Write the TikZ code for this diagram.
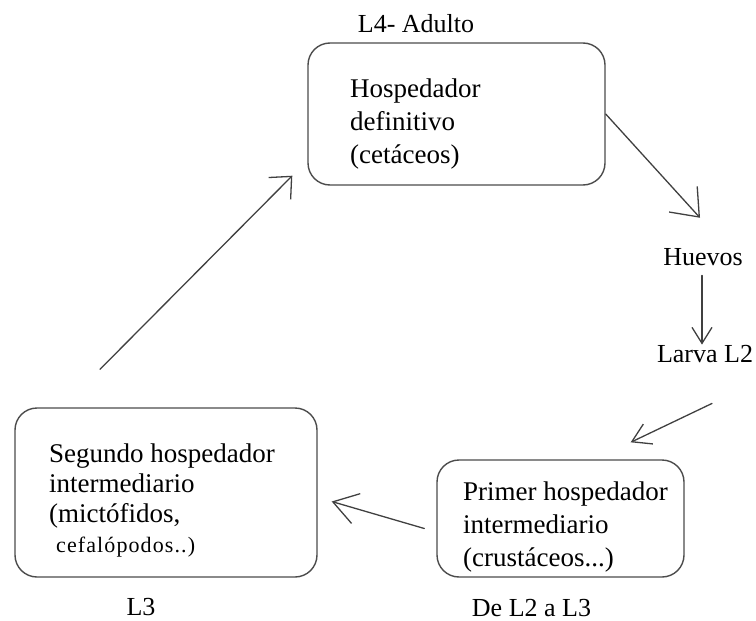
\documentclass[tikz,border=0pt]{standalone}
\usepackage{fontspec}
\setmainfont{Liberation Serif}
\usetikzlibrary{arrows.meta}

\tikzset{
 host/.style={draw=black!70, line width=1.4pt, rounded corners=22pt, inner sep=0pt},
 hosttext/.style={anchor=base west, inner sep=0pt, text width=280pt, align=flush left,
   font=\fontsize{27}{33}\selectfont},
 stage/.style={anchor=base, inner sep=0pt, font=\fontsize{26}{31}\selectfont},
 link/.style={draw=black!75, line width=1.3pt, line cap=round, line join=round},
}

\begin{document}
\begin{tikzpicture}[x=1pt,y=-1pt]
 \useasboundingbox (0,0) rectangle (756,621);
 % hosts
 \node[host, minimum width=297pt, minimum height=142pt] (defin) at (456.5,114) {};
 \node[host, minimum width=247pt, minimum height=117pt] (primer) at (560.5,518.5) {};
 \node[host, minimum width=302pt, minimum height=169pt] (segundo) at (166,492.5) {};
 \node[hosttext] (defin-t) at (350,97) {Hospedador\\definitivo\\(cetáceos)};
 \node[hosttext] (primer-t) at (463,500) {Primer hospedador\\intermediario\\(crustáceos...)};
 \node[hosttext, font=\fontsize{27}{30}\selectfont] (segundo-t) at (49,462)
   {Segundo hospedador\\intermediario\\(mictófidos,\\\hspace*{7pt}{\fontsize{22}{30}\selectfont\addfontfeature{LetterSpace=5}cefalópodos..)}};
 % stages
 \node[stage] (adulto) at (416,32) {L4- Adulto};
 \node[stage] (huevos) at (703,265) {Huevos};
 \node[stage] (larva) at (705,362) {Larva L2};
 \node[stage] (l2l3) at (531.5,616) {De L2 a L3};
 \node[stage] (l3) at (141,615) {L3};
 % cycle
 \draw[link,-{Straight Barb[length=24pt,width=38pt]}] (defin.east) -- ([shift={(-3,-30)}]huevos.north);
 \draw[link,-{Straight Barb[length=16pt,width=20pt]}] ([shift={(-1,10)}]huevos.south) -- ([xshift=-1pt]huevos.south |- larva.north);
 \draw[link,-{Straight Barb[length=18pt,width=22pt]}] ([shift={(7,41)}]larva.south) -- ([shift={(-54,-17)}]primer.north east);
 \draw[link,-{Straight Barb[length=24pt,width=31pt]}] ([shift={(-12,10)}]primer.west) -- ([shift={(14,9)}]segundo.east);
 \draw[link,-{Straight Barb[length=17pt,width=31pt]}] ([shift={(-66,-38)}]segundo.north) -- ([shift={(-15,-10)}]defin.south west);
\end{tikzpicture}
\end{document}
